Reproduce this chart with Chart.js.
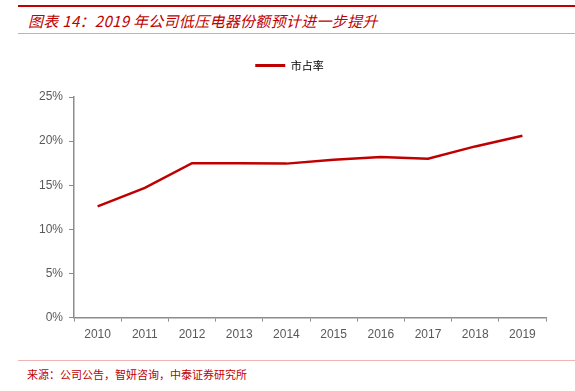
<!DOCTYPE html>
<html><head><meta charset="utf-8">
<script src="https://cdn.jsdelivr.net/npm/chart.js@4"></script>
<style>
html,body{margin:0;padding:0;background:#fff;width:575px;height:391px;overflow:hidden;font-family:"Noto Sans CJK SC",sans-serif}
#wrap{position:absolute;left:0;top:0;width:575px;height:391px}
.topline{position:absolute;left:18px;right:0;top:5px;height:2px;background:#C00000}
.title{position:absolute;left:28px;top:10px;font-size:15px;font-style:italic;color:#C00000;white-space:nowrap;letter-spacing:0.3px}
.subline{position:absolute;left:18px;right:0;top:33px;height:1px;background:#E8A0A0}
.footline{position:absolute;left:18px;right:0;top:360px;height:1px;background:#F0B4B4}
.foot{position:absolute;left:27px;top:366px;font-size:11px;color:#C00000;white-space:nowrap}
#cw{position:absolute;left:0;top:40px;width:575px;height:310px}
</style></head>
<body>
<div id="wrap">
<div class="topline"></div>
<div class="title">图表 14：2019 年公司低压电器份额预计进一步提升</div>
<div class="subline"></div>
<div id="cw"><canvas id="c"></canvas></div>
<div class="footline"></div>
<div class="foot">来源：公司公告，智妍咨询，中泰证券研究所</div>
</div>
<script>
const categories = ["2010","2011","2012","2013","2014","2015","2016","2017","2018","2019"];
const shareValues = [12.6, 14.7, 17.5, 17.5, 17.45, 17.9, 18.2, 18.0, 19.4, 20.6];
const seriesName = "市占率";
const yTicks = [0, 5, 10, 15, 20, 25];

const axisColor = "#8C8C8C";
const labelColor = "#595959";

const legendMargin = {
  id: "legendMargin",
  beforeInit(chart) {
    const orig = chart.legend.fit;
    chart.legend.fit = function () {
      orig.bind(chart.legend)();
      this.height += 16;
    };
  }
};

new Chart(document.getElementById("c"), {
  type: "line",
  data: {
    labels: categories,
    datasets: [{
      label: seriesName,
      data: shareValues,
      borderColor: "#C00000",
      backgroundColor: "#C00000",
      borderWidth: 2.5,
      pointRadius: 0,
      tension: 0,
      fill: false
    }]
  },
  plugins: [legendMargin],
  options: {
    responsive: true,
    maintainAspectRatio: false,
    animation: false,
    layout: { padding: { left: 33, right: 29, top: 10, bottom: 2 } },
    plugins: {
      legend: {
        display: true,
        position: "top",
        labels: {
          boxWidth: 30,
          boxHeight: 3,
          color: "#7F7F7F",
          font: { family: "Noto Sans CJK SC", size: 11 },
          padding: 10,
          generateLabels: (chart) => [{
            text: seriesName,
            fillStyle: "#C00000",
            strokeStyle: "#C00000",
            lineWidth: 0,
            datasetIndex: 0
          }]
        }
      },
      tooltip: { enabled: false }
    },
    scales: {
      x: {
        offset: true,
        grid: {
          display: true,
          drawOnChartArea: false,
          offset: true,
          color: axisColor,
          tickLength: 4,
          tickColor: axisColor
        },
        border: { display: true, color: axisColor, width: 1.5 },
        ticks: {
          color: labelColor,
          font: { family: "Liberation Sans", size: 12 },
          padding: 6,
          maxRotation: 0
        }
      },
      y: {
        min: 0,
        max: 25,
        afterBuildTicks: (axis) => { axis.ticks = yTicks.map(v => ({ value: v })); },
        grid: {
          display: true,
          drawOnChartArea: false,
          color: axisColor,
          tickLength: 5,
          tickColor: axisColor
        },
        border: { display: true, color: axisColor, width: 1.5 },
        ticks: {
          color: labelColor,
          font: { family: "Liberation Sans", size: 12 },
          padding: 6,
          callback: (v) => v + "%"
        }
      }
    }
  }
});
</script>
</body></html>
